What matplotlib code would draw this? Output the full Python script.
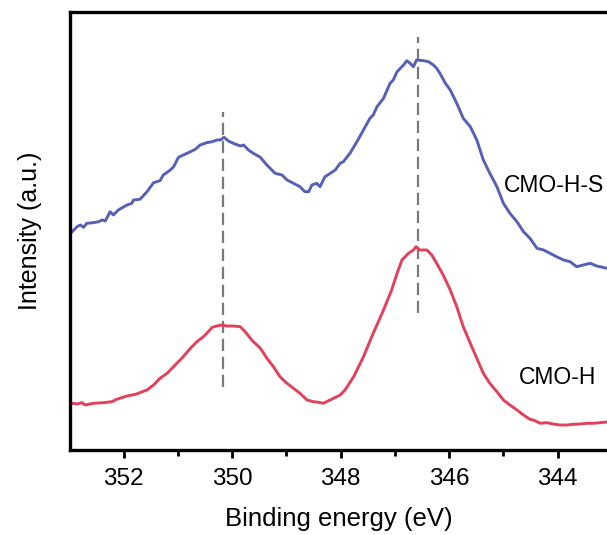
import matplotlib
matplotlib.use("Agg")
import matplotlib.pyplot as plt
from matplotlib.ticker import MultipleLocator

plt.rcParams["font.family"] = ["Liberation Sans", "DejaVu Sans"]

# Ca 2p region, binding energy (eV) and intensity (a.u.)
be_hs = [352.95, 352.86, 352.80, 352.74, 352.68, 352.56, 352.46, 352.40, 352.34, 352.25,
         352.19, 352.10, 351.94, 351.85, 351.82, 351.70, 351.57, 351.45, 351.33, 351.27,
         351.14, 351.08, 350.99, 350.90, 350.77, 350.68, 350.59, 350.47, 350.37, 350.28,
         350.22, 350.15, 350.07, 349.98, 349.85, 349.79, 349.70, 349.61, 349.48, 349.39,
         349.30, 349.21, 349.08, 348.99, 348.87, 348.75, 348.66, 348.59, 348.53, 348.44,
         348.38, 348.29, 348.19, 348.10, 348.01, 347.95, 347.83, 347.70, 347.58, 347.46,
         347.40, 347.33, 347.21, 347.09, 347.03, 346.96, 346.90, 346.84, 346.78, 346.72,
         346.66, 346.60, 346.47, 346.38, 346.29, 346.23, 346.17, 346.07, 345.98, 345.86,
         345.74, 345.61, 345.49, 345.37, 345.25, 345.12, 345.00, 344.88, 344.75, 344.63,
         344.51, 344.38, 344.26, 344.14, 344.02, 343.89, 343.77, 343.65, 343.53, 343.40,
         343.28, 343.09]
int_hs = [218.3, 223.3, 225.0, 222.7, 226.7, 227.3, 228.3, 230.0, 229.0, 238.3,
          235.0, 240.0, 245.0, 246.7, 250.0, 250.7, 258.3, 267.3, 269.3, 275.0,
          280.0, 283.3, 292.7, 295.0, 298.3, 300.7, 305.0, 307.3, 308.3, 310.0,
          310.0, 312.7, 309.0, 306.7, 304.0, 305.0, 300.0, 296.7, 292.7, 286.7,
          281.7, 276.7, 275.0, 270.0, 266.7, 263.3, 258.3, 258.3, 265.0, 266.7,
          263.3, 273.3, 276.7, 280.0, 286.7, 288.3, 296.7, 308.3, 320.0, 331.7,
          335.0, 343.3, 351.7, 366.7, 370.0, 378.3, 381.7, 385.0, 389.3, 386.7,
          383.3, 390.0, 389.3, 388.3, 385.0, 381.7, 376.7, 366.7, 360.0, 346.7,
          331.7, 323.3, 310.0, 290.0, 276.7, 263.3, 246.7, 236.7, 228.3, 218.3,
          211.7, 201.7, 200.0, 196.7, 193.3, 190.0, 188.3, 183.3, 185.0, 186.7,
          184.0, 181.7]

be_h = [352.95, 352.86, 352.77, 352.71, 352.56, 352.37, 352.22, 352.13, 351.94, 351.76,
        351.66, 351.57, 351.45, 351.33, 351.20, 351.05, 350.93, 350.77, 350.65, 350.53,
        350.44, 350.37, 350.28, 350.19, 350.10, 349.98, 349.85, 349.76, 349.64, 349.48,
        349.36, 349.24, 349.12, 348.99, 348.87, 348.75, 348.62, 348.50, 348.41, 348.32,
        348.26, 348.13, 348.01, 347.92, 347.76, 347.58, 347.40, 347.21, 347.06, 346.96,
        346.87, 346.75, 346.66, 346.61, 346.54, 346.41, 346.32, 346.23, 346.11, 345.98,
        345.86, 345.74, 345.61, 345.49, 345.37, 345.25, 345.12, 345.00, 344.88, 344.75,
        344.63, 344.51, 344.45, 344.32, 344.20, 344.08, 343.96, 343.83, 343.71, 343.59,
        343.46, 343.34, 343.22, 343.09]
int_h = [46.7, 46.0, 47.3, 45.0, 46.7, 47.3, 48.3, 50.7, 54.0, 56.0,
         58.3, 60.0, 65.0, 71.7, 76.7, 85.0, 91.7, 101.7, 108.3, 113.3,
         118.3, 122.7, 124.0, 125.0, 124.0, 124.0, 123.3, 118.3, 110.0, 101.7,
         91.7, 83.3, 73.3, 66.7, 61.7, 56.7, 50.0, 48.3, 47.7, 46.7,
         48.3, 51.7, 55.0, 60.0, 73.3, 93.3, 116.7, 140.0, 160.0, 176.7,
         190.0, 196.7, 200.0, 203.3, 200.0, 200.0, 195.0, 186.7, 175.0, 160.0,
         143.3, 123.3, 106.7, 91.7, 76.7, 66.7, 58.3, 50.0, 45.0, 40.0,
         35.0, 30.7, 30.0, 26.7, 27.3, 26.0, 25.0, 25.0, 25.7, 26.0,
         26.7, 26.7, 27.3, 28.0]

# peak markers: position and vertical extent
peak_pos = [350.17, 346.58]
peak_lo = [63, 137]
peak_hi = [338, 413]

labels = ["CMO-H-S", "CMO-H"]
label_pos = [(344.99, 265), (344.71, 72)]

fig = plt.figure(figsize=(6.07, 5.35), dpi=100)
ax = fig.add_axes([70 / 607, 85 / 535, 537 / 607, 438 / 535])

for x, lo, hi in zip(peak_pos, peak_lo, peak_hi):
    ax.plot([x, x], [lo, hi], color="#7a7a7a", lw=1.6, dashes=(5.5, 2.6), zorder=1)

ax.plot(be_hs, int_hs, color="#5661B5", lw=2.1, zorder=2)
ax.plot(be_h, int_h, color="#E1415A", lw=2.1, zorder=2)

for text, (x, y) in zip(labels, label_pos):
    ax.text(x, y, text, fontsize=16.5, ha="left", va="center")

ax.set_xlim(352.99, 343.09)
ax.set_ylim(0, 438)
ax.xaxis.set_major_locator(MultipleLocator(2))
ax.xaxis.set_minor_locator(MultipleLocator(1))
ax.set_yticks([])
ax.tick_params(axis="x", which="major", length=6, width=2, labelsize=17.5, pad=7)
ax.tick_params(axis="x", which="minor", length=4, width=2)
ax.spines["right"].set_visible(False)
for side in ("left", "bottom", "top"):
    ax.spines[side].set_linewidth(2.4)

ax.set_xlabel("Binding energy (eV)", fontsize=18.5, labelpad=12)
ax.set_ylabel("Intensity (a.u.)", fontsize=18, labelpad=20)

fig.savefig("out.png", dpi=100, facecolor="white")
